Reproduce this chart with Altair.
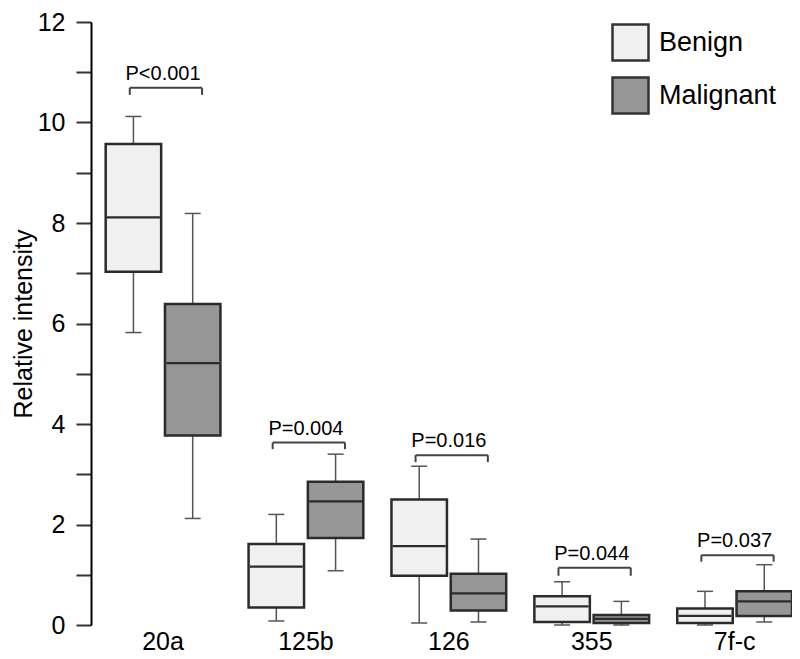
import altair as alt
import pandas as pd

# ---- data ----
categories = ["20a", "125b", "126", "355", "7f-c"]
groups = ["Benign", "Malignant"]

benign_min = [5.82, 0.08, 0.04, 0.00, 0.00]
benign_q1 = [7.03, 0.35, 0.98, 0.06, 0.04]
benign_med = [8.11, 1.16, 1.57, 0.37, 0.18]
benign_q3 = [9.57, 1.61, 2.50, 0.57, 0.33]
benign_max = [10.12, 2.20, 3.16, 0.86, 0.67]

malig_min = [2.12, 1.08, 0.06, 0.00, 0.06]
malig_q1 = [3.77, 1.73, 0.29, 0.04, 0.18]
malig_med = [5.21, 2.46, 0.63, 0.12, 0.47]
malig_q3 = [6.39, 2.85, 1.02, 0.20, 0.67]
malig_max = [8.19, 3.40, 1.71, 0.47, 1.20]

p_labels = ["P<0.001", "P=0.004", "P=0.016", "P=0.044", "P=0.037"]
bracket_top = [10.69, 3.63, 3.38, 1.14, 1.39]
bracket_leg = [10.55, 3.50, 3.24, 0.98, 1.26]

y_ticks = list(range(0, 13))

# ---- tables ----
rows = []
for i, c in enumerate(categories):
    rows.append(dict(cat=c, grp="Benign", lo=benign_min[i], q1=benign_q1[i],
                     med=benign_med[i], q3=benign_q3[i], hi=benign_max[i]))
    rows.append(dict(cat=c, grp="Malignant", lo=malig_min[i], q1=malig_q1[i],
                     med=malig_med[i], q3=malig_q3[i], hi=malig_max[i]))
box_df = pd.DataFrame(rows)

p_df = pd.DataFrame(dict(cat=categories, label=p_labels, top=bracket_top, leg=bracket_leg))

FONT = "Liberation Sans"

x_scale = alt.Scale(domain=categories, paddingInner=0.197, paddingOuter=0.0514, align=1)
xo_scale = alt.Scale(domain=groups, paddingInner=0.064, paddingOuter=0)
y_scale = alt.Scale(domain=[0, 12], nice=False, zero=True)

x_enc = alt.X("cat:N", scale=x_scale, sort=categories,
              axis=alt.Axis(title=None, domain=False, ticks=False, labelAngle=0,
                            labelFontSize=25, labelFont=FONT, labelColor="black",
                            labelPadding=4))
xo_enc = alt.XOffset("grp:N", scale=xo_scale, sort=groups)

y_axis = alt.Axis(title="Relative intensity", values=y_ticks,
                  labelExpr="datum.value % 2 == 0 ? datum.label : ''",
                  grid=False, domainColor="black", domainWidth=2,
                  tickColor="#333333", tickWidth=2, tickSize=15,
                  labelFontSize=25, labelFont=FONT, labelColor="black", labelPadding=11,
                  titleFontSize=25, titleFont=FONT, titleFontWeight="normal",
                  titleColor="black", titlePadding=1)

base = alt.Chart(box_df)

whisker = base.mark_rule(color="#555555", strokeWidth=1.5).encode(
    x=x_enc, xOffset=xo_enc,
    y=alt.Y("lo:Q", scale=y_scale, axis=y_axis), y2="hi:Q")

cap_hi = base.mark_tick(color="#555555", thickness=1.5, size=16, opacity=1).encode(
    x=x_enc, xOffset=xo_enc, y=alt.Y("hi:Q", scale=y_scale))
cap_lo = base.mark_tick(color="#555555", thickness=1.5, size=16, opacity=1).encode(
    x=x_enc, xOffset=xo_enc, y=alt.Y("lo:Q", scale=y_scale))

box = base.mark_bar(stroke="#2b2b2b", strokeWidth=2.5, opacity=1).encode(
    x=x_enc, xOffset=xo_enc,
    y=alt.Y("q1:Q", scale=y_scale), y2="q3:Q",
    color=alt.Color("grp:N", sort=groups,
                    scale=alt.Scale(domain=groups, range=["#f0f0f0", "#969696"]),
                    legend=alt.Legend(title=None, orient="none", legendX=520, legendY=1,
                                      symbolType="square", symbolSize=1296,
                                      symbolStrokeColor="#333333", symbolStrokeWidth=2.5,
                                      symbolOpacity=1,
                                      labelFontSize=27, labelFont=FONT, labelColor="black",
                                      labelOffset=9, rowPadding=6, padding=0)))

median = base.mark_tick(color="#2b2b2b", thickness=2.2, size=53, opacity=1).encode(
    x=x_enc, xOffset=xo_enc, y=alt.Y("med:Q", scale=y_scale))

pbase = alt.Chart(p_df)
br_h = pbase.mark_rule(color="#444444", strokeWidth=2).encode(
    x=alt.X("cat:N", scale=x_scale, sort=categories, bandPosition=0.21),
    x2=alt.X2("cat", bandPosition=0.84),
    y=alt.Y("top:Q", scale=y_scale))
br_l = pbase.mark_rule(color="#444444", strokeWidth=2).encode(
    x=alt.X("cat:N", scale=x_scale, sort=categories, bandPosition=0.21),
    y=alt.Y("top:Q", scale=y_scale), y2="leg:Q")
br_r = pbase.mark_rule(color="#444444", strokeWidth=2).encode(
    x=alt.X("cat:N", scale=x_scale, sort=categories, bandPosition=0.84),
    y=alt.Y("top:Q", scale=y_scale), y2="leg:Q")
ptext = pbase.mark_text(fontSize=20, font=FONT, color="black", align="center",
                        baseline="alphabetic", dy=-8).encode(
    x=alt.X("cat:N", scale=x_scale, sort=categories),
    y=alt.Y("top:Q", scale=y_scale), text="label:N")

chart = alt.layer(whisker, cap_hi, cap_lo, box, median, br_h, br_l, br_r, ptext).properties(
    width=701, height=603,
    autosize=alt.AutoSizeParams(type="none"),
    padding={"left": 83, "top": 14, "right": 0, "bottom": 33},
    background="white",
).configure_view(stroke=None)

chart.save("out.html", embed_options={"renderer": "svg", "actions": False})
